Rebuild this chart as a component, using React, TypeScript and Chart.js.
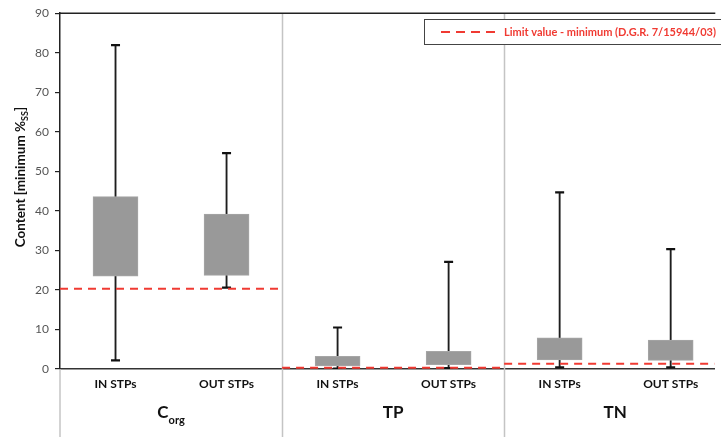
import React, { useEffect, useRef } from 'react';
import { Chart, registerables } from 'chart.js';

Chart.register(...registerables);

const categories = ['IN STPs', 'OUT STPs', 'IN STPs', 'OUT STPs', 'IN STPs', 'OUT STPs'];
const groupNames = ['C', 'TP', 'TN'];
const groupSubs = ['org', '', ''];
const whiskerMin = [2.2, 20.6, 0.1, 0.2, 0.4, 0.4];
const quartile1 = [23.5, 23.7, 0.8, 1.1, 2.3, 2.2];
const quartile3 = [43.6, 39.2, 3.2, 4.5, 7.9, 7.3];
const whiskerMax = [81.9, 54.6, 10.5, 27.1, 44.7, 30.3];
const limitValues = [20.3, 0.3, 1.3];
const limitLabel = 'Limit value - minimum (D.G.R. 7/15944/03)';
const yTitleMain = 'Content [minimum %';
const yTitleSub = 'SS';
const yTitleEnd = ']';

const FONT = 'Lato, "Liberation Sans", sans-serif';
const RED = '#f03a32';

export default function App() {
  const ref = useRef<HTMLCanvasElement>(null);

  useEffect(() => {
    const canvas = ref.current;
    if (!canvas) return;
    const slots = categories.map((_, i) => i + 0.5);

    const overlay = {
      id: 'overlay',
      beforeDatasetsDraw(chart: any) {
        const { ctx, chartArea, scales } = chart;
        const x = scales.x;
        ctx.save();
        ctx.strokeStyle = '#c4c4c4';
        ctx.lineWidth = 1.5;
        [2, 4].forEach((v) => {
          const px = Math.round(x.getPixelForValue(v)) + 0.5;
          ctx.beginPath();
          ctx.moveTo(px, chartArea.top);
          ctx.lineTo(px, chart.height);
          ctx.stroke();
        });
        ctx.beginPath();
        ctx.moveTo(chartArea.left, chartArea.bottom);
        ctx.lineTo(chartArea.left, chart.height);
        ctx.stroke();
        ctx.strokeStyle = '#222';
        ctx.lineWidth = 1.5;
        ctx.beginPath();
        ctx.moveTo(chartArea.left, chartArea.top);
        ctx.lineTo(chartArea.right + 1, chartArea.top);
        ctx.stroke();
        ctx.restore();
      },
      afterDraw(chart: any) {
        const { ctx, scales } = chart;
        const x = scales.x;
        ctx.save();
        ctx.fillStyle = '#111';
        ctx.textBaseline = 'middle';
        groupNames.forEach((name, g) => {
          const cx = x.getPixelForValue(2 * g + 1);
          ctx.font = `bold 17px ${FONT}`;
          const w1 = ctx.measureText(name).width;
          let w2 = 0;
          if (groupSubs[g]) {
            ctx.font = `bold 11px ${FONT}`;
            w2 = ctx.measureText(groupSubs[g]).width;
          }
          const start = cx - (w1 + w2) / 2;
          ctx.font = `bold 17px ${FONT}`;
          ctx.textAlign = 'left';
          ctx.fillText(name, start, 413);
          if (groupSubs[g]) {
            ctx.font = `bold 11px ${FONT}`;
            ctx.fillText(groupSubs[g], start + w1, 420);
          }
        });
        ctx.save();
        ctx.translate(21, 177);
        ctx.rotate(-Math.PI / 2);
        ctx.font = `bold 13.5px ${FONT}`;
        const a = ctx.measureText(yTitleMain).width;
        ctx.font = `bold 9px ${FONT}`;
        const b = ctx.measureText(yTitleSub).width;
        ctx.font = `bold 13.5px ${FONT}`;
        const c = ctx.measureText(yTitleEnd).width;
        let sx = -(a + b + c) / 2;
        ctx.textAlign = 'left';
        ctx.fillStyle = '#111';
        ctx.fillText(yTitleMain, sx, 0);
        sx += a;
        ctx.font = `bold 9px ${FONT}`;
        ctx.fillText(yTitleSub, sx, 4);
        sx += b;
        ctx.font = `bold 13.5px ${FONT}`;
        ctx.fillText(yTitleEnd, sx, 0);
        ctx.restore();
        const lx = 424.5, ly = 19.5, lw = 300, lh = 25;
        ctx.fillStyle = '#fff';
        ctx.fillRect(lx, ly, lw, lh);
        ctx.strokeStyle = '#444';
        ctx.lineWidth = 1;
        ctx.strokeRect(lx, ly, lw, lh);
        ctx.strokeStyle = RED;
        ctx.lineWidth = 2;
        ctx.setLineDash([9, 6]);
        ctx.beginPath();
        ctx.moveTo(441, 32);
        ctx.lineTo(498, 32);
        ctx.stroke();
        ctx.setLineDash([]);
        ctx.fillStyle = RED;
        ctx.font = `bold 11px ${FONT}`;
        ctx.textAlign = 'left';
        ctx.fillText(limitLabel, 504, 32);
        ctx.restore();
      },
    };

    const chart = new Chart(canvas, {
      type: 'bar',
      data: {
        datasets: [
          {
            type: 'line',
            label: limitLabel,
            data: limitValues.flatMap((v, g) => [
              { x: 2 * g, y: v },
              { x: 2 * g + 2, y: v },
              { x: 2 * g + 2, y: null },
            ]) as any,
            borderColor: RED,
            borderWidth: 2,
            borderDash: [8, 6],
            pointRadius: 0,
            spanGaps: false,
            order: 0,
          },
          {
            type: 'line',
            label: 'caps',
            data: slots.flatMap((x, i) => [
              { x, y: whiskerMin[i] },
              { x, y: whiskerMax[i] },
            ]),
            showLine: false,
            pointStyle: 'line',
            pointRadius: 4.5,
            pointBorderWidth: 2.2,
            pointBorderColor: '#111',
            borderColor: '#111',
            order: 1,
          },
          {
            type: 'bar',
            label: 'box',
            data: slots.map((x, i) => ({ x, y: [quartile1[i], quartile3[i]] })) as any,
            backgroundColor: '#999999',
            borderColor: '#a6a6a6',
            borderWidth: 1,
            borderSkipped: false,
            barThickness: 45,
            grouped: false,
            order: 2,
          },
          {
            type: 'bar',
            label: 'whisker',
            data: slots.map((x, i) => ({ x, y: [whiskerMin[i], whiskerMax[i]] })) as any,
            backgroundColor: '#1e1e1e',
            borderWidth: 0,
            barThickness: 1.2,
            grouped: false,
            order: 3,
          },
        ],
      },
      options: {
        responsive: false,
        animation: false,
        devicePixelRatio: 1,
        layout: { padding: { top: 13, right: 1, left: 0, bottom: 0 } },
        plugins: { legend: { display: false }, tooltip: { enabled: false }, title: { display: false } },
        scales: {
          x: {
            type: 'linear',
            min: 0,
            max: 660 / 112,
            offset: false,
            afterBuildTicks: (s: any) => {
              s.ticks = slots.map((v) => ({ value: v }));
            },
            afterFit: (s: any) => {
              s.height = 68;
            },
            ticks: {
              autoSkip: false,
              maxRotation: 0,
              padding: 8,
              color: '#111',
              font: { family: FONT, size: 12, weight: 'bold' },
              callback: (_v: any, i: number) => categories[i],
            },
            grid: { display: true, color: 'rgba(0,0,0,0)', drawTicks: false },
            border: { display: true, color: '#333', width: 1.5 },
          },
          y: {
            min: 0,
            max: 90,
            afterFit: (s: any) => {
              s.width = 60;
            },
            ticks: {
              stepSize: 10,
              padding: 6,
              color: '#555',
              font: { family: FONT, size: 12 },
            },
            grid: { drawOnChartArea: false, drawTicks: true, tickLength: 5, color: '#222', lineWidth: 1.2 },
            border: { display: true, color: '#222', width: 1.5 },
          },
        },
      },
      plugins: [overlay],
    });

    return () => chart.destroy();
  }, []);

  return (
    <div style={{ position: 'fixed', left: 0, top: 0, width: 721, height: 437, background: '#fff' }}>
      <canvas ref={ref} width={721} height={437} style={{ display: 'block', width: 721, height: 437 }} />
    </div>
  );
}
